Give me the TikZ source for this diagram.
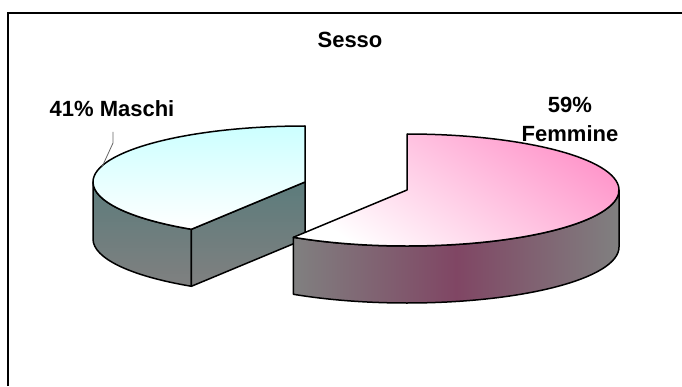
\documentclass[tikz,border=0pt]{standalone}
\usepackage{fontspec}
\setmainfont{Liberation Sans}
\usetikzlibrary{calc}
\tikzset{%
  pieedge/.style={%
    draw=black,%
    line width=1.5pt,%
    line join=round},
  lbl/.style={%
    font=\bfseries\fontsize{22}{29}\selectfont,%
    inner sep=0pt},
  leader/.style={%
    draw=black!60,%
    line width=0.8pt}
}
\definecolor{cyantop}{RGB}{204,255,255}
\definecolor{tealwall}{RGB}{92,124,124}
\definecolor{graywall}{RGB}{128,128,128}
\definecolor{pinktop}{RGB}{255,145,200}
\definecolor{mauvewall}{RGB}{128,70,100}

\begin{document}
\begin{tikzpicture}[x=1pt,y=1pt]
  \useasboundingbox (0,0) rectangle (682,386);
  \draw[line width=1.5pt] (8,0) -- (8,373) -- (682,373);
  \coordinate (lc) at (305,204);
  \coordinate (rc) at (407,196);
  % Maschi
  \shade[pieedge,top color=tealwall,bottom color=graywall]
    ($(lc)+(180:212 and 56)$) arc[start angle=180,end angle=237.6,x radius=212,y radius=56]
    -- ++(0,-57) arc[start angle=237.6,end angle=180,x radius=212,y radius=56] -- cycle;
  \shade[pieedge,top color=tealwall,bottom color=graywall]
    (lc) -- ($(lc)+(237.6:212 and 56)$) -- ++(0,-57) -- ($(lc)+(0,-57)$) -- cycle;
  \shade[pieedge,top color=cyantop,bottom color=white]
    (lc) -- ++(0,56) arc[start angle=90,end angle=237.6,x radius=212,y radius=56] -- cycle;
  % Femmine
  \shade[pieedge,left color=graywall,right color=graywall,middle color=mauvewall]
    ($(rc)+(237.6:212 and 56)$) arc[start angle=237.6,end angle=360,x radius=212,y radius=56]
    -- ++(0,-57) arc[start angle=360,end angle=237.6,x radius=212,y radius=56] -- cycle;
  \shade[pieedge,top color=pinktop,bottom color=white,shading angle=-35]
    (rc) -- ($(rc)+(237.6:212 and 56)$) arc[start angle=237.6,end angle=450,x radius=212,y radius=56] -- cycle;
  % labels
  \node[lbl,anchor=base] (title) at (350,338) {Sesso};
  \node[lbl,anchor=base] (maschi) at (112,269) {41\% Maschi};
  \node[lbl,align=center,anchor=base] (femmine) at (570,244) {59\%\\Femmine};
  \coordinate (mbend) at (113,243);
  \coordinate (mend) at (102,219);
  \draw[leader] ($(maschi.base)+(1,-15)$) -- (mbend) -- (mend);
\end{tikzpicture}
\end{document}
